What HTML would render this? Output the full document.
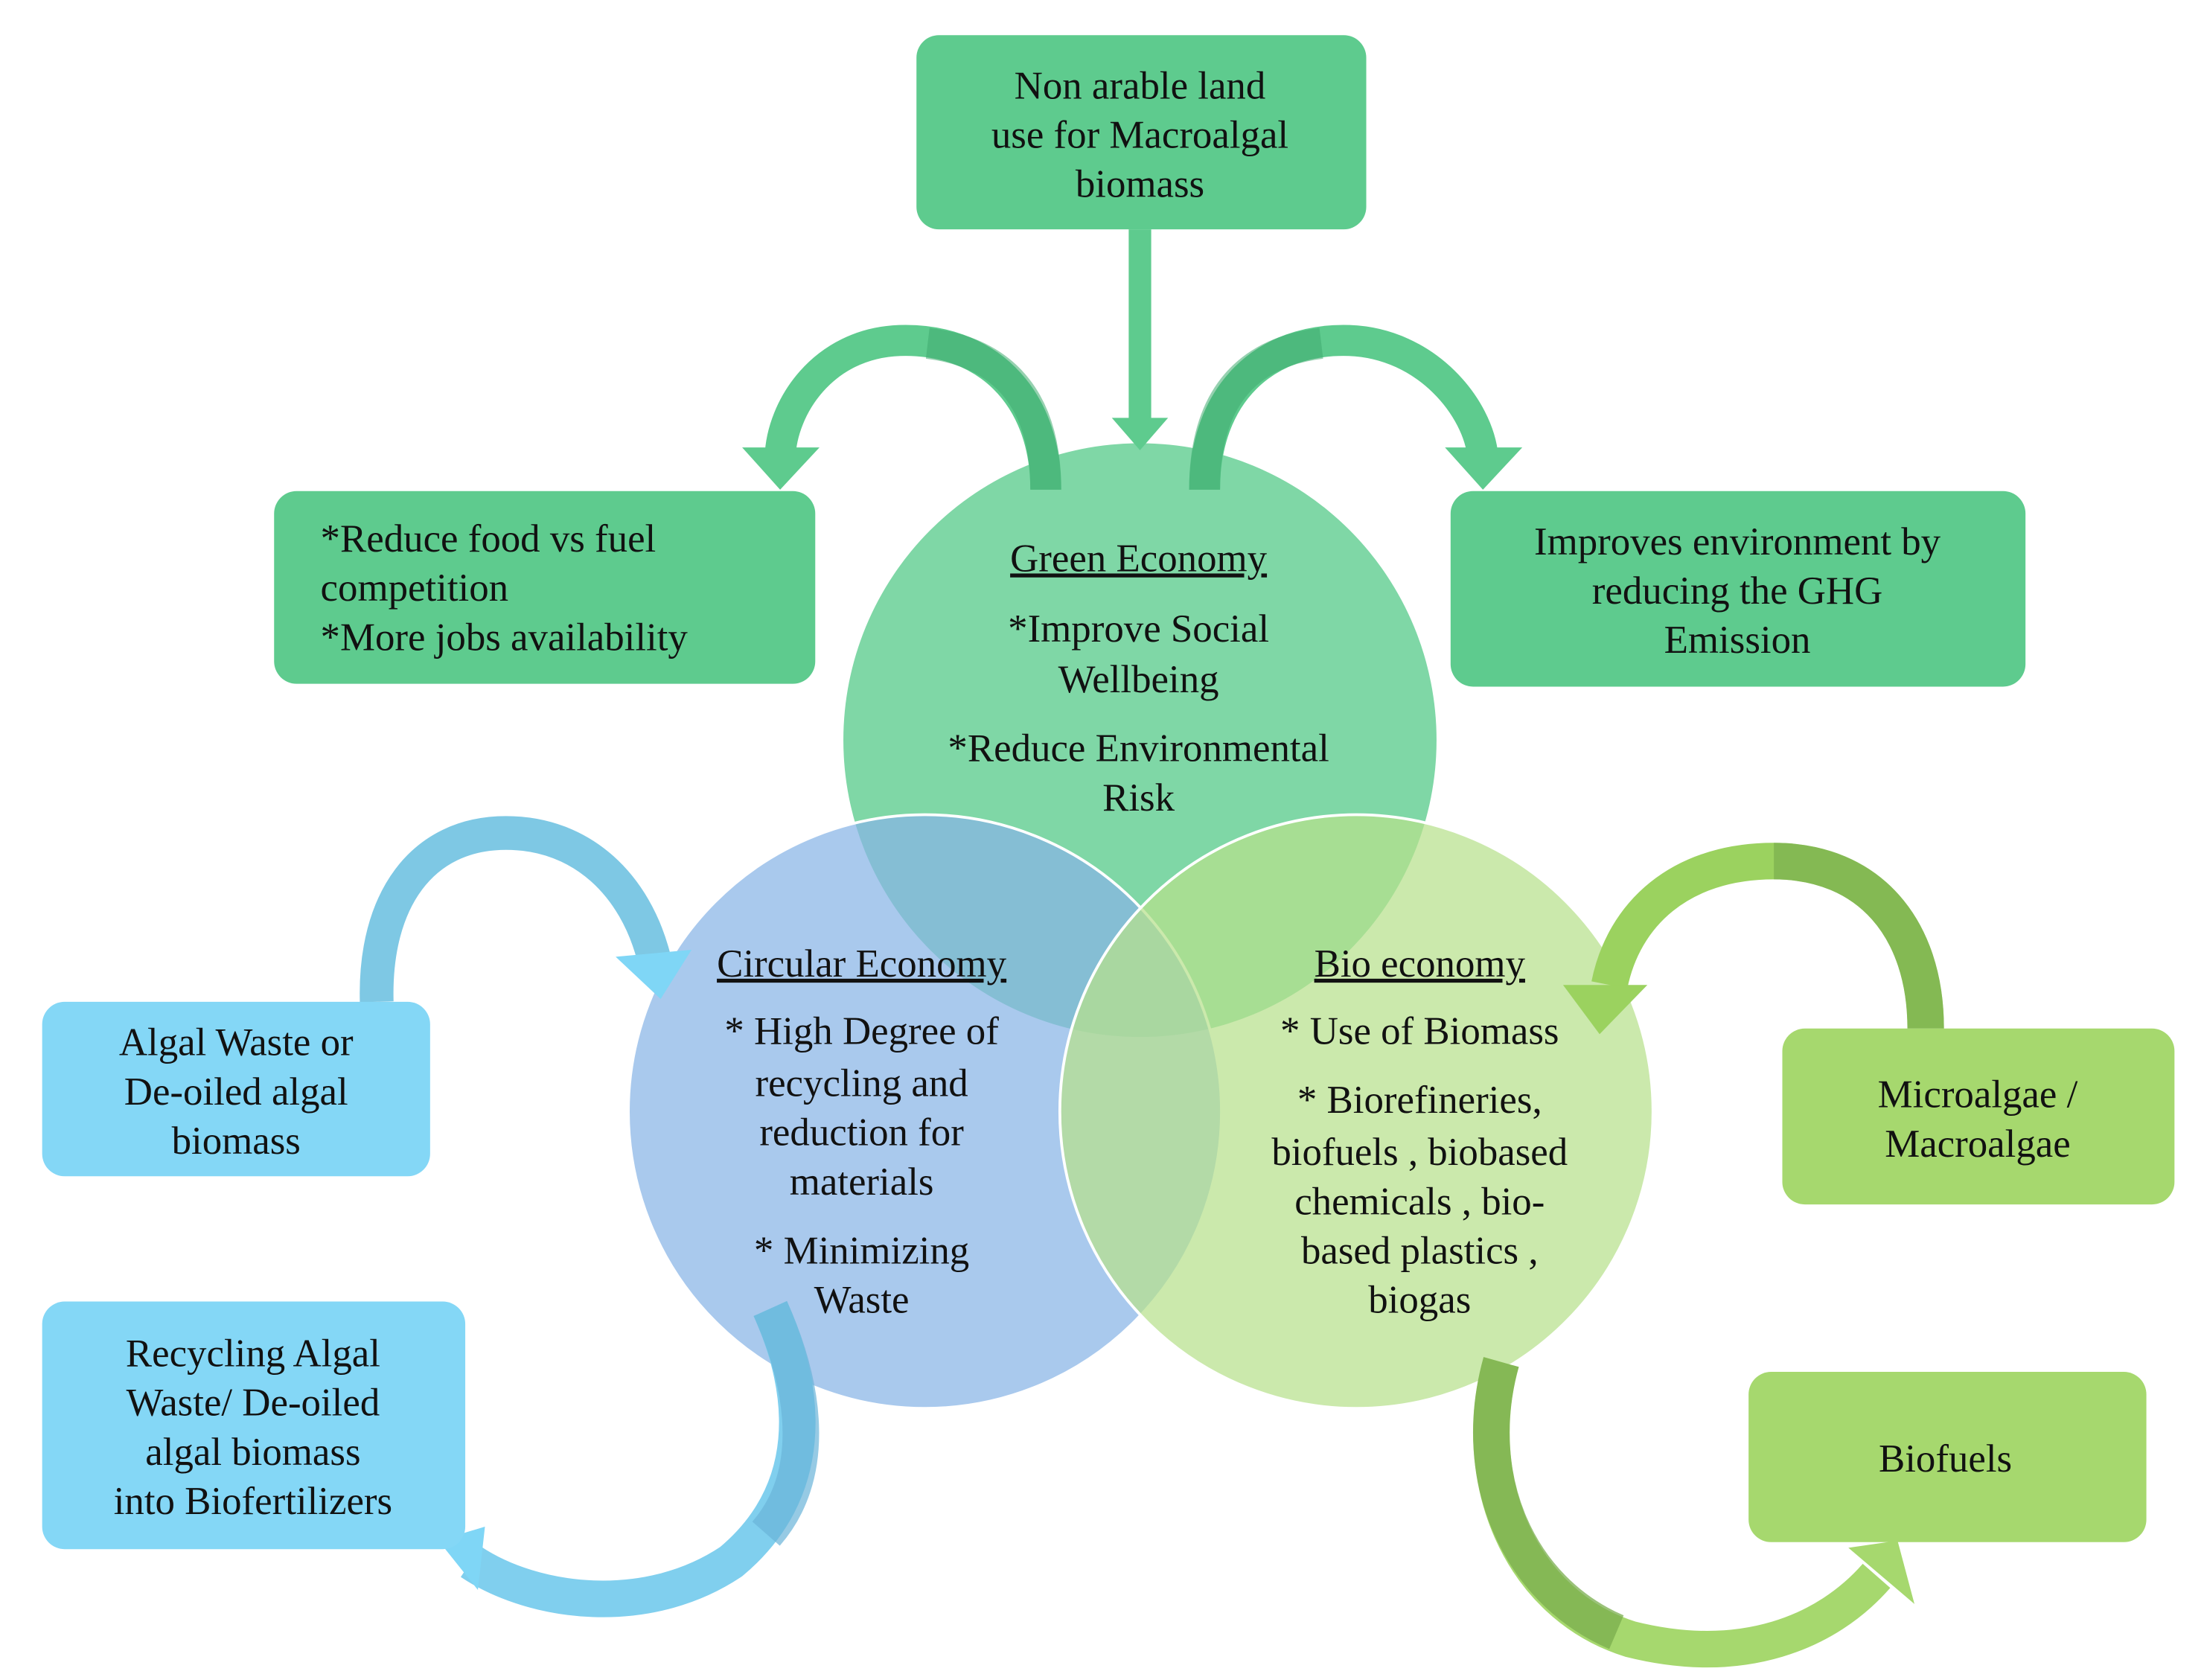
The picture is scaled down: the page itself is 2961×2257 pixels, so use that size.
<!DOCTYPE html>
<html><head><meta charset="utf-8"><style>
html,body{margin:0;padding:0;background:#fff}
svg{display:block}
text{font-family:"Liberation Serif",serif;font-size:28px;fill:#111}
</style></head><body>
<svg width="2961" height="2257" viewBox="0 0 1568 1194" preserveAspectRatio="none" xmlns="http://www.w3.org/2000/svg">
<!-- circles -->
<circle cx="811" cy="526" r="211" fill="#7fd7a6"/>
<circle cx="658" cy="790" r="211" fill="#88b4e6" fill-opacity="0.72" stroke="#fff" stroke-width="2"/>
<circle cx="965" cy="790" r="211" fill="#b7e08c" fill-opacity="0.72" stroke="#fff" stroke-width="2"/>

<!-- vertical arrow -->
<rect x="803" y="163" width="16" height="135" fill="#5ecb8e"/>
<polygon points="791,297 831,297 811,320" fill="#5ecb8e"/>

<!-- left curved green arrow -->
<path d="M744,348 C744,280 700,240 640,242 C585,244 556,290 555,325" fill="none" stroke="#5ecb8e" stroke-width="22"/>
<path d="M744,348 C744,280 710,250 660,244" fill="none" stroke="#3fab6f" stroke-opacity="0.55" stroke-width="22"/>
<polygon points="528,318 583,318 555,348" fill="#5ecb8e"/>
<!-- right curved green arrow -->
<path d="M857,348 C857,280 900,240 960,242 C1015,244 1052,290 1055,325" fill="none" stroke="#5ecb8e" stroke-width="22"/>
<path d="M857,348 C857,280 890,250 940,244" fill="none" stroke="#3fab6f" stroke-opacity="0.55" stroke-width="22"/>
<polygon points="1028,318 1083,318 1055,348" fill="#5ecb8e"/>

<!-- blue top arrow -->
<path d="M268,712 C266,640 300,592 360,592 C415,592 452,630 465,680" fill="none" stroke="#7ec8e4" stroke-width="24"/>
<polygon points="438,680 492,675 470,710" fill="#7fd6f6"/>
<!-- blue bottom arrow -->
<path d="M548,930 C575,990 580,1060 520,1110 C460,1150 380,1140 335,1110" fill="none" stroke="#80cfee" stroke-width="26"/>
<path d="M548,930 C575,990 580,1050 545,1090" fill="none" stroke="#6ab4d8" stroke-width="26" stroke-opacity="0.7"/>
<polygon points="312,1095 345,1085 340,1130" fill="#7fd6f6"/>

<!-- green right arrow -->
<path d="M1370,731 C1370,660 1330,612 1262,612 C1195,612 1155,650 1145,700" fill="none" stroke="#9bd25f" stroke-width="26"/>
<path d="M1370,731 C1370,660 1330,612 1262,612" fill="none" stroke="#7aae4e" stroke-width="26" stroke-opacity="0.7"/>
<polygon points="1112,700 1172,700 1138,735" fill="#9bd25f"/>
<!-- green bottom arrow -->
<path d="M1068,968 C1045,1050 1080,1140 1160,1165 C1240,1185 1300,1160 1335,1120" fill="none" stroke="#a6d86e" stroke-width="26"/>
<path d="M1068,968 C1045,1050 1080,1130 1150,1160" fill="none" stroke="#7aae4e" stroke-width="26" stroke-opacity="0.75"/>
<polygon points="1315,1100 1350,1095 1362,1140" fill="#a6d86e"/>

<!-- boxes -->
<rect x="652" y="25" width="320" height="138" rx="16" fill="#5ecb8e"/>
<rect x="195" y="349" width="385" height="137" rx="16" fill="#5ecb8e"/>
<rect x="1032" y="349" width="409" height="139" rx="16" fill="#5ecb8e"/>
<rect x="30" y="712" width="276" height="124" rx="16" fill="#84d7f6"/>
<rect x="30" y="925" width="301" height="176" rx="16" fill="#84d7f6"/>
<rect x="1268" y="731" width="279" height="125" rx="16" fill="#a6d86e"/>
<rect x="1244" y="975" width="283" height="121" rx="16" fill="#a6d86e"/>

<g text-anchor="middle">
<text x="811" y="70">Non arable land</text>
<text x="811" y="105">use for Macroalgal</text>
<text x="811" y="140">biomass</text>
<text x="1236" y="394">Improves environment by</text>
<text x="1236" y="429">reducing the GHG</text>
<text x="1236" y="464">Emission</text>
<text x="168" y="750">Algal Waste or</text>
<text x="168" y="785">De-oiled algal</text>
<text x="168" y="820">biomass</text>
<text x="180" y="971">Recycling Algal</text>
<text x="180" y="1006">Waste/ De-oiled</text>
<text x="180" y="1041">algal biomass</text>
<text x="180" y="1076">into Biofertilizers</text>
<text x="1407" y="787">Microalgae /</text>
<text x="1407" y="822">Macroalgae</text>
<text x="1384" y="1046">Biofuels</text>

<text x="810" y="406" text-decoration="underline">Green Economy</text>
<text x="810" y="456">*Improve Social</text>
<text x="810" y="492">Wellbeing</text>
<text x="810" y="541">*Reduce Environmental</text>
<text x="810" y="576">Risk</text>

<text x="613" y="694" text-decoration="underline">Circular Economy</text>
<text x="613" y="742">* High Degree of</text>
<text x="613" y="779">recycling and</text>
<text x="613" y="814">reduction for</text>
<text x="613" y="849">materials</text>
<text x="613" y="898">* Minimizing</text>
<text x="613" y="933">Waste</text>

<text x="1010" y="694" text-decoration="underline">Bio economy</text>
<text x="1010" y="742">* Use of Biomass</text>
<text x="1010" y="791">* Biorefineries,</text>
<text x="1010" y="828">biofuels , biobased</text>
<text x="1010" y="863">chemicals , bio-</text>
<text x="1010" y="898">based plastics ,</text>
<text x="1010" y="933">biogas</text>
</g>
<text x="228" y="392">*Reduce food vs fuel</text>
<text x="228" y="427">competition</text>
<text x="228" y="462">*More jobs availability</text>
</svg>
</body></html>
